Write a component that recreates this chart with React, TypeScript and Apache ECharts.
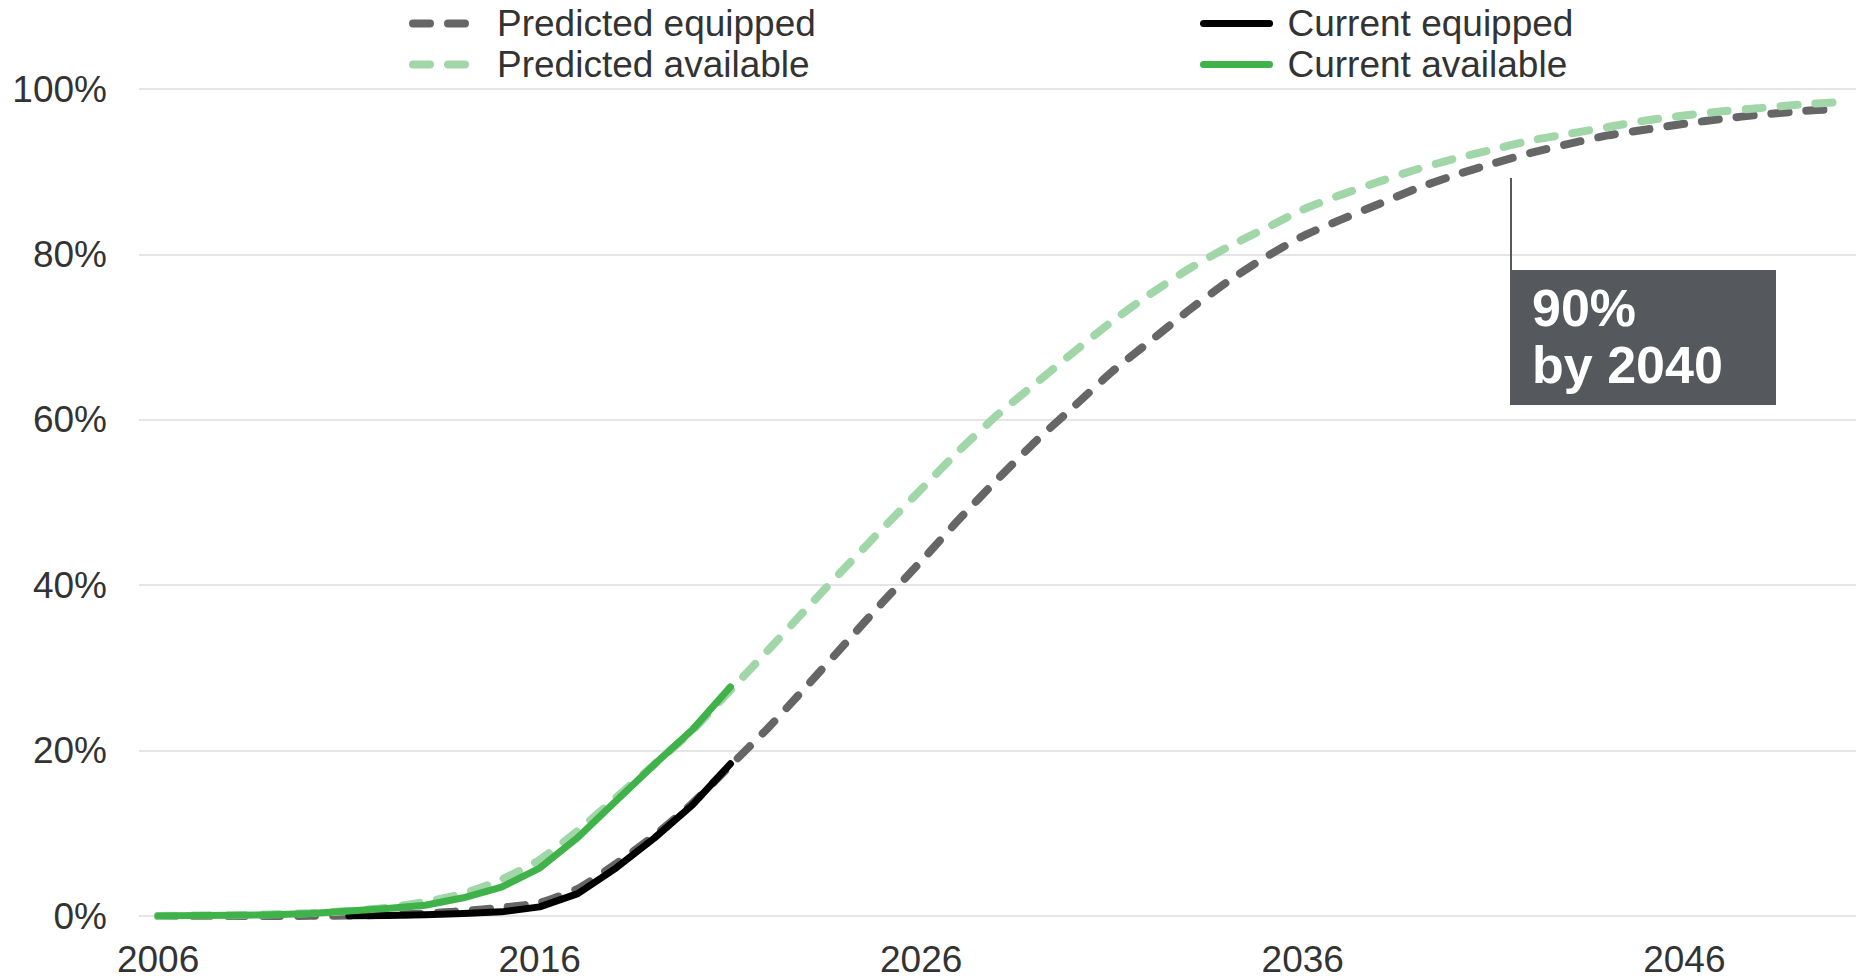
import React, { useEffect, useRef } from "react";
import * as echarts from "echarts";

const years = [
  "2006", "2007", "2008", "2009", "2010", "2011", "2012", "2013", "2014", "2015",
  "2016", "2017", "2018", "2019", "2020", "2021", "2022", "2023", "2024", "2025",
  "2026", "2027", "2028", "2029", "2030", "2031", "2032", "2033", "2034", "2035",
  "2036", "2037", "2038", "2039", "2040", "2041", "2042", "2043", "2044", "2045",
  "2046", "2047", "2048", "2049", "2050",
];

const predictedEquipped = [
  0, 0, 0, 0, 0.02, 0.05, 0.15, 0.3, 0.6, 1.0,
  1.6, 3.3, 6.3, 9.7, 13.6, 18.2, 22.8, 27.8, 32.9, 38.0,
  42.9, 48.0, 52.8, 57.4, 61.6, 65.8, 69.5, 73.2, 76.6, 79.6,
  82.2, 84.2, 86.1, 88.0, 89.6, 91.0, 92.3, 93.4, 94.4, 95.1,
  95.8, 96.4, 96.9, 97.3, 97.6,
];

const predictedAvailable = [
  0, 0.05, 0.1, 0.2, 0.35, 0.6, 1.0, 1.7, 2.7, 4.4,
  6.8, 10.3, 14.3, 18.3, 22.4, 27.3, 32.2, 37.2, 42.1, 46.9,
  51.6, 56.3, 60.6, 64.4, 68.2, 71.9, 75.2, 78.2, 80.8, 83.1,
  85.4, 87.2, 88.8, 90.3, 91.6, 92.7, 93.8, 94.6, 95.4, 96.2,
  96.8, 97.3, 97.7, 98.1, 98.4,
];

const currentEquipped = [
  null, null, null, null, null, 0, 0.05, 0.15, 0.3, 0.5,
  1.1, 2.7, 5.8, 9.4, 13.4, 18.4,
];

const currentAvailable = [
  0, 0.05, 0.1, 0.15, 0.3, 0.6, 0.9, 1.3, 2.2, 3.5,
  5.8, 9.5, 13.9, 18.3, 22.5, 27.7,
];

const yTicks = { min: 0, max: 100, interval: 20 };
const annotationLines = ["90%", "by 2040"];

const FONT = "'Liberation Sans', Arial, Helvetica, sans-serif";
const TEXT = "#333333";
const C_PRED_EQ = "#666666";
const C_PRED_AV = "#a1d6a9";
const C_CUR_EQ = "#000000";
const C_CUR_AV = "#40b24a";
const C_BOX = "#55585c";
const FS = 37;

export default function App() {
  const ref = useRef<HTMLDivElement>(null);

  useEffect(() => {
    if (!ref.current) return;
    const chart = echarts.init(ref.current, undefined, { renderer: "svg" });
    const dash = [17, 18];
    const legendText = {
      fontFamily: FONT,
      fontSize: FS,
      color: TEXT,
      padding: [0, 0, 0, 13],
    };
    const legendCommon = {
      top: 0,
      orient: "vertical",
      itemWidth: 66,
      itemHeight: 14,
      itemGap: 4,
      textStyle: legendText,
      itemStyle: { color: "rgba(0,0,0,0)", borderWidth: 0, opacity: 0 },
    };
    chart.setOption({
      animation: false,
      backgroundColor: "#ffffff",
      grid: { left: 139, top: 89, bottom: 63, width: 1728, containLabel: false },
      legend: [
        {
          ...legendCommon,
          left: 404,
          lineStyle: { width: 8, cap: "round" },
          data: ["Predicted equipped", "Predicted available"],
        },
        {
          ...legendCommon,
          left: 1195,
          lineStyle: { width: 7, cap: "round" },
          data: ["Current equipped", "Current available"],
        },
      ],
      xAxis: {
        type: "category",
        data: years,
        boundaryGap: true,
        axisLine: { show: false },
        axisTick: { show: false },
        splitLine: { show: false },
        axisLabel: {
          interval: 9,
          margin: 25,
          fontFamily: FONT,
          fontSize: FS,
          color: TEXT,
        },
      },
      yAxis: {
        type: "value",
        min: yTicks.min,
        max: yTicks.max,
        interval: yTicks.interval,
        axisLine: { show: false },
        axisTick: { show: false },
        splitLine: { lineStyle: { color: "#dcdcdc", width: 1.5 } },
        axisLabel: {
          formatter: "{value}%",
          margin: 32,
          fontFamily: FONT,
          fontSize: FS,
          color: TEXT,
        },
      },
      series: [
        {
          name: "Predicted equipped",
          type: "line",
          data: predictedEquipped,
          symbol: "none",
          smooth: 0.2,
          lineStyle: { color: C_PRED_EQ, width: 8, type: dash, cap: "round" },
          itemStyle: { color: C_PRED_EQ },
          z: 2,
        },
        {
          name: "Predicted available",
          type: "line",
          data: predictedAvailable,
          symbol: "none",
          smooth: 0.2,
          lineStyle: { color: C_PRED_AV, width: 8, type: dash, cap: "round" },
          itemStyle: { color: C_PRED_AV },
          z: 3,
        },
        {
          name: "Current equipped",
          type: "line",
          data: currentEquipped,
          symbol: "none",
          lineStyle: { color: C_CUR_EQ, width: 7, cap: "round", join: "round" },
          itemStyle: { color: C_CUR_EQ },
          z: 4,
        },
        {
          name: "Current available",
          type: "line",
          data: currentAvailable,
          symbol: "none",
          lineStyle: { color: C_CUR_AV, width: 7, cap: "round", join: "round" },
          itemStyle: { color: C_CUR_AV },
          z: 5,
        },
      ],
      graphic: [
        {
          type: "line",
          shape: { x1: 1511, y1: 178, x2: 1511, y2: 272 },
          style: { stroke: C_BOX, lineWidth: 2 },
          z: 10,
        },
        {
          type: "rect",
          shape: { x: 1510, y: 270, width: 266, height: 135 },
          style: { fill: C_BOX },
          z: 10,
        },
        {
          type: "text",
          x: 1532,
          y: 279,
          style: {
            text: annotationLines.join("\n"),
            fill: "#ffffff",
            fontFamily: FONT,
            fontSize: 52,
            fontWeight: "bold",
            lineHeight: 57,
            verticalAlign: "top",
            align: "left",
          },
          z: 11,
        },
      ],
    });
    return () => chart.dispose();
  }, []);

  return (
    <div
      ref={ref}
      style={{ position: "fixed", left: 0, top: 0, width: 1856, height: 979 }}
    />
  );
}
